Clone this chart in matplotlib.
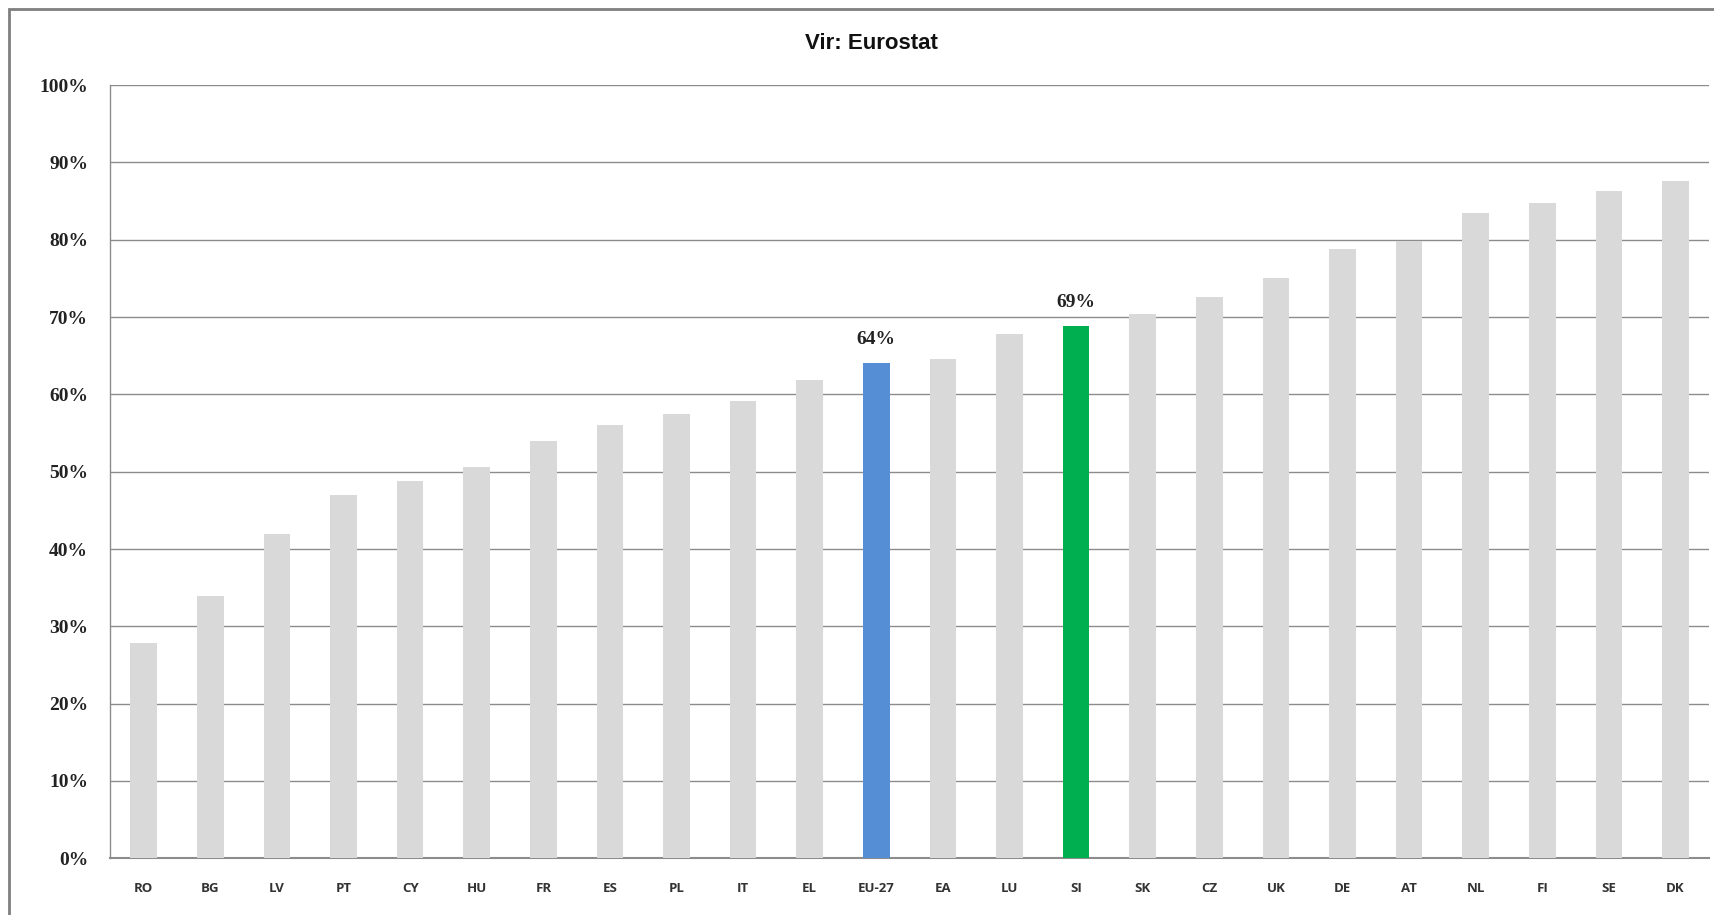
import numpy as np
import matplotlib.pyplot as plt
from matplotlib.patches import Rectangle

# data
countries = ['RO', 'BG', 'LV', 'PT', 'CY', 'HU', 'FR', 'ES', 'PL', 'IT', 'EL', 'EU-27',
             'EA', 'LU', 'SI', 'SK', 'CZ', 'UK', 'DE', 'AT', 'NL', 'FI', 'SE', 'DK']
values = [27.9, 33.9, 42.0, 47.0, 48.8, 50.6, 54.0, 56.0, 57.4, 59.1, 61.8, 64.1,
          64.6, 67.8, 68.9, 70.4, 72.6, 75.0, 78.8, 79.8, 83.5, 84.7, 86.3, 87.6]
highlight = {'EU-27': '#558ED5', 'SI': '#00B050'}
labelled = {'EU-27': '64%', 'SI': '69%'}
yticks = [0, 10, 20, 30, 40, 50, 60, 70, 80, 90, 100]

grid_col = '#8C8C8C'

fig = plt.figure(figsize=(17.15, 9.15), dpi=100)
ax = fig.add_axes([0.0644, 0.062, 0.932, 0.845])

x = np.arange(len(countries))
colors = [highlight.get(c, '#D9D9D9') for c in countries]
ax.bar(x, values, width=0.4, color=colors, zorder=3)

for i, c in enumerate(countries):
    if c in labelled:
        ax.text(x[i], values[i] + 1.9, labelled[c], ha='center', va='bottom',
                fontsize=14, fontweight='bold', family='Liberation Serif', color='#222222')

ax.set_xlim(-0.5, len(countries) - 0.5)
ax.set_ylim(0, 100)
ax.set_yticks(yticks)
ax.set_yticklabels([f'{v}%' for v in yticks], fontsize=14, fontweight='bold',
                   family='Liberation Serif', color='#222222')
ax.set_xticks(x)
ax.set_xticklabels(countries, fontsize=9.5, fontweight='bold', family='Open Sans',
                   color='#333333')
ax.tick_params(axis='y', length=0, pad=16)
ax.tick_params(axis='x', length=0, pad=17)

ax.grid(axis='y', color=grid_col, linewidth=1.0, zorder=0)
for s in ['top', 'right']:
    ax.spines[s].set_visible(False)
ax.spines['left'].set_color(grid_col)
ax.spines['bottom'].set_color(grid_col)
ax.spines['left'].set_linewidth(1.0)
ax.spines['bottom'].set_linewidth(1.5)

fig.text(0.508, 0.952, 'Vir: Eurostat', ha='center', va='center', fontsize=16,
         fontweight='bold', family='Liberation Sans', color='#111111')

# outer chart frame
fig.patches.append(Rectangle((0.005, -0.05), 1.2, 1.04, transform=fig.transFigure,
                             fill=False, edgecolor='#7F7F7F', linewidth=2.0))

fig.savefig('out.png', dpi=100)
